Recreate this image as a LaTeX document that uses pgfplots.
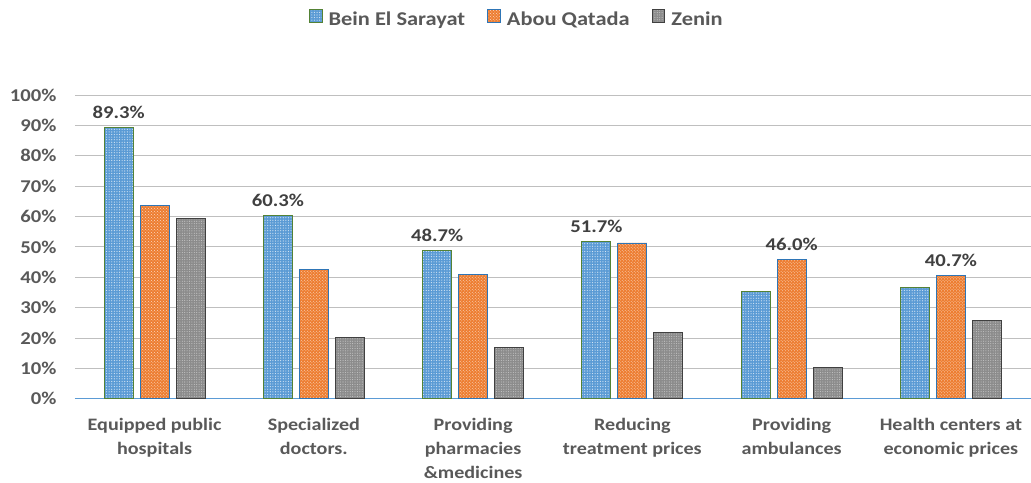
\documentclass[border=0pt]{standalone}
\usepackage{pgfplots}
\pgfplotsset{compat=1.18}
\usepackage{fontspec}
\setmainfont{Carlito}[FakeStretch=1.15]
\usetikzlibrary{patterns,patterns.meta}
\definecolor{cblue}{HTML}{5B9BD5}
\definecolor{corange}{HTML}{ED7D31}
\definecolor{cgray}{HTML}{8C8C8C}
\definecolor{txt}{HTML}{595959}
\definecolor{lbl}{HTML}{404040}
\definecolor{grid}{HTML}{D9D9D9}
\definecolor{bgreen}{HTML}{548235}
\definecolor{bblue}{HTML}{2E75B6}
\begin{document}
\begin{tikzpicture}
\begin{axis}[
  scale only axis,
  width=956pt, height=304pt,
  clip=false,
  ybar=7pt, bar width=29pt,
  xmin=-0.5, xmax=5.5,
  ymin=0, ymax=100,
  ytick={0,10,...,100},
  yticklabel={\pgfmathprintnumber{\tick}\%},
  /pgf/number format/assume math mode=true,
  xtick=data,
  xticklabels={{Equipped public\\hospitals},{Specialized\\doctors.},{Providing\\pharmacies\\\&medicines},{Reducing\\treatment prices},{Providing\\ambulances},{Health centers at\\economic prices}},
  xticklabel style={align=center, font=\fontsize{17.5}{24}\selectfont\bfseries, text=txt, yshift=-16pt},
  yticklabel style={font=\fontsize{18}{20}\selectfont\bfseries, text=txt, xshift=-15pt},
  major tick length=0pt,
  xmajorgrids=false,
  ymajorgrids, grid style={grid, line width=0.8pt},
  axis lines*=left,
  y axis line style={draw=none},
  x axis line style={draw=cblue, line width=1pt, -},
  point meta=explicit symbolic,
  nodes near coords,
  nodes near coords style={font=\fontsize{18}{20}\selectfont\bfseries, text=lbl, yshift=5pt},
  legend style={at={(0.4623,1.25)}, anchor=center, draw=none, legend columns=-1,
    font=\fontsize{19.5}{22}\selectfont\bfseries, text=txt,
    /tikz/every even column/.append style={column sep=20pt}},
  area legend,
  legend image code/.code={\draw[#1, line width=0.6pt] (0cm,-0.1cm) rectangle (0.45cm,0.35cm); \path (0.6cm,0);},
]
\addplot[fill=cblue, draw=bgreen, line width=0.8pt,
  postaction={pattern={Dots[radius=0.6pt,distance=2.6pt]}, pattern color=white!75!cblue}]
  coordinates {(0,89.3) [89.3\%] (1,60.3) [60.3\%] (2,48.7) [48.7\%] (3,51.7) [51.7\%] (4,35.2) [] (5,36.5) []};
\addplot[fill=corange, draw=bblue, line width=0.8pt,
  postaction={pattern=crosshatch dots, pattern color=white!70!corange}]
  coordinates {(0,63.6) [] (1,42.5) [] (2,40.8) [] (3,51.3) [] (4,46.0) [46.0\%] (5,40.7) [40.7\%]};
\addplot[fill=cgray, draw=black!75, line width=0.8pt,
  postaction={pattern={Dots[radius=0.55pt,distance=2.4pt]}, pattern color=white!50!cgray}]
  coordinates {(0,59.5) [] (1,20.2) [] (2,16.8) [] (3,21.8) [] (4,10.2) [] (5,25.7) []};
\legend{Bein El Sarayat, Abou Qatada, Zenin}
\path ([xshift=-75pt,yshift=-84pt]rel axis cs:0,0) rectangle ([yshift=95pt]rel axis cs:1,1);
\end{axis}
\end{tikzpicture}
\end{document}
